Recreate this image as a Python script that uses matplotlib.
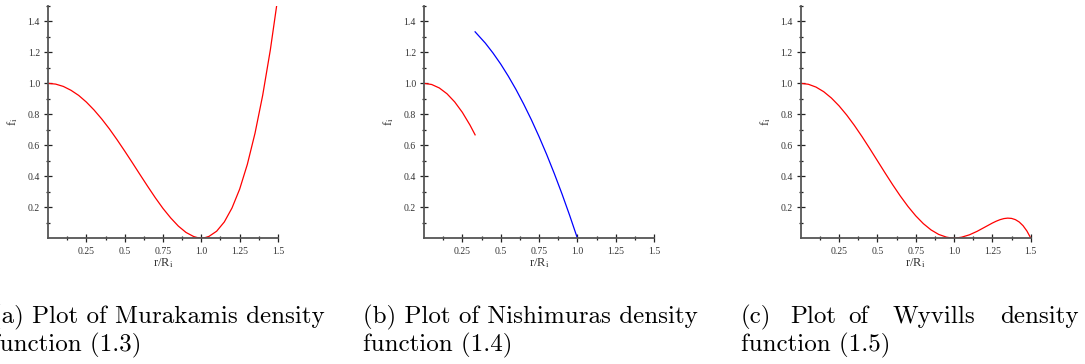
import matplotlib
matplotlib.use("Agg")
import matplotlib.pyplot as plt
from matplotlib.ticker import FixedLocator

plt.rcParams["font.family"] = ["Liberation Serif", "DejaVu Serif"]
plt.rcParams["mathtext.fontset"] = "stix"

# -------------------------
# Data
# -------------------------
r_mura = [0.0, 0.05, 0.1, 0.15, 0.2, 0.25, 0.3, 0.35, 0.4, 0.45, 0.5,
          0.55, 0.6, 0.65, 0.7, 0.75, 0.8, 0.85, 0.9, 0.95, 0.975, 1.0,
          1.025, 1.05, 1.1, 1.15, 1.2, 1.25, 1.3, 1.35, 1.4, 1.45, 1.5]
f_mura = [1.0, 0.995, 0.980, 0.955, 0.922, 0.879, 0.828, 0.770, 0.706, 0.636, 0.5625,
          0.487, 0.410, 0.334, 0.260, 0.191, 0.130, 0.077, 0.036, 0.0095, 0.0024, 0.0,
          0.0026, 0.0105, 0.044, 0.104, 0.194, 0.316, 0.476, 0.677, 0.922, 1.216, 1.5625]

r_nishi_in = [0.0, 0.05, 0.1, 0.15, 0.2, 0.25, 0.3, 0.3333]
f_nishi_in = [1.0, 0.9925, 0.970, 0.9325, 0.880, 0.8125, 0.730, 0.667]

r_nishi_out = [0.3333, 0.4, 0.45, 0.5, 0.55, 0.6, 0.65, 0.7, 0.75, 0.8, 0.85, 0.9, 0.95, 1.0]
f_nishi_out = [1.333, 1.260, 1.196, 1.125, 1.046, 0.960, 0.866, 0.765, 0.656, 0.540, 0.416, 0.285, 0.146, 0.0]

r_wyv = [0.0, 0.05, 0.1, 0.15, 0.2, 0.25, 0.3, 0.35, 0.4, 0.45, 0.5,
         0.55, 0.6, 0.65, 0.7, 0.75, 0.8, 0.85, 0.9, 0.95, 0.975, 1.0,
         1.025, 1.05, 1.1, 1.15, 1.2, 1.25, 1.275, 1.3, 1.325, 1.35, 1.375,
         1.4, 1.425, 1.45, 1.475, 1.5]
f_wyv = [1.0, 0.994, 0.9757, 0.946, 0.9052, 0.8545, 0.795, 0.7281, 0.6554, 0.5788, 0.5,
         0.4211, 0.3441, 0.2709, 0.2035, 0.1436, 0.0927, 0.0523, 0.0231, 0.0057, 0.0014, 0.0,
         0.0014, 0.0054, 0.0204, 0.0429, 0.0697, 0.0967, 0.1086, 0.1185, 0.1255, 0.1285, 0.1267,
         0.1188, 0.1036, 0.0797, 0.0457, 0.0]

x_ticks = [0.25, 0.5, 0.75, 1.0, 1.25, 1.5]
x_labels = ["0.25", "0.5", "0.75", "1.0", "1.25", "1.5"]
y_ticks = [0.2, 0.4, 0.6, 0.8, 1.0, 1.2, 1.4]
y_labels = ["0.2", "0.4", "0.6", "0.8", "1.0", "1.2", "1.4"]

cap_a = ["(a) Plot of Murakamis density", "function (1.3)"]
cap_b = ["(b) Plot of Nishimuras density", "function (1.4)"]
cap_c_words = ["(c)", "Plot", "of", "Wyvills", "density"]
cap_c_line2 = "function (1.5)"

W, H = 1085, 364
fig = plt.figure(figsize=(W / 100, H / 100), dpi=100)

lefts = [48, 424, 800.7]
axes = []
for left in lefts:
    ax = fig.add_axes([left / W, (H - 238) / H, 230 / W, 232 / H])
    ax.set_xlim(0, 1.5)
    ax.set_ylim(0, 1.5)
    for s in ["top", "right"]:
        ax.spines[s].set_visible(False)
    for s in ["left", "bottom"]:
        ax.spines[s].set_color("#555555")
        ax.spines[s].set_linewidth(1.3)
    ax.xaxis.set_major_locator(FixedLocator(x_ticks))
    ax.xaxis.set_minor_locator(FixedLocator([0.125, 0.375, 0.625, 0.875, 1.125, 1.375]))
    ax.yaxis.set_major_locator(FixedLocator(y_ticks))
    ax.yaxis.set_minor_locator(FixedLocator([0.1, 0.3, 0.5, 0.7, 0.9, 1.1, 1.3, 1.5]))
    ax.set_xticklabels(x_labels)
    ax.set_yticklabels(y_labels)
    ax.tick_params(which="major", direction="inout", length=5.5, width=0.9,
                   color="#222222", labelsize=7, labelcolor="#333333")
    ax.tick_params(which="minor", direction="inout", length=3, width=0.9, color="#222222")
    ax.tick_params(axis="x", which="major", pad=3.5)
    ax.tick_params(axis="y", which="major", pad=3)
    ax.set_xlabel(r"r/R$_\mathrm{i}$", fontsize=9, color="#333333")
    ax.set_ylabel(r"f$_\mathrm{i}$", fontsize=9, color="#333333")
    ax.xaxis.set_label_coords(0.5, -0.108)
    ax.xaxis.label.set_va("center")
    ax.yaxis.set_label_coords(-0.152, 0.5)
    ax.yaxis.label.set_va("center")
    axes.append(ax)

axes[0].plot(r_mura, f_mura, color="#ff0000", lw=0.9)
axes[1].plot(r_nishi_in, f_nishi_in, color="#ff0000", lw=0.9)
axes[1].plot(r_nishi_out, f_nishi_out, color="#0000ff", lw=0.9)
axes[2].plot(r_wyv, f_wyv, color="#ff0000", lw=0.9)

# -------------------------
# Captions
# -------------------------
cap_font = dict(family="cmr10", fontsize=18, va="baseline", color="black")
y1 = (H - 323) / H
y2 = (H - 351) / H
fig.text(-8 / W, y1, cap_a[0], **cap_font)
fig.text(-8 / W, y2, cap_a[1], **cap_font)
fig.text(363 / W, y1, cap_b[0], **cap_font)
fig.text(363 / W, y2, cap_b[1], **cap_font)
# third caption line is justified, so words are spread out
for word, xp in zip(cap_c_words, [741, 790, 848, 893, 1000]):
    fig.text(xp / W, y1, word, **cap_font)
fig.text(741 / W, y2, cap_c_line2, **cap_font)

fig.savefig("out.png", dpi=100)
